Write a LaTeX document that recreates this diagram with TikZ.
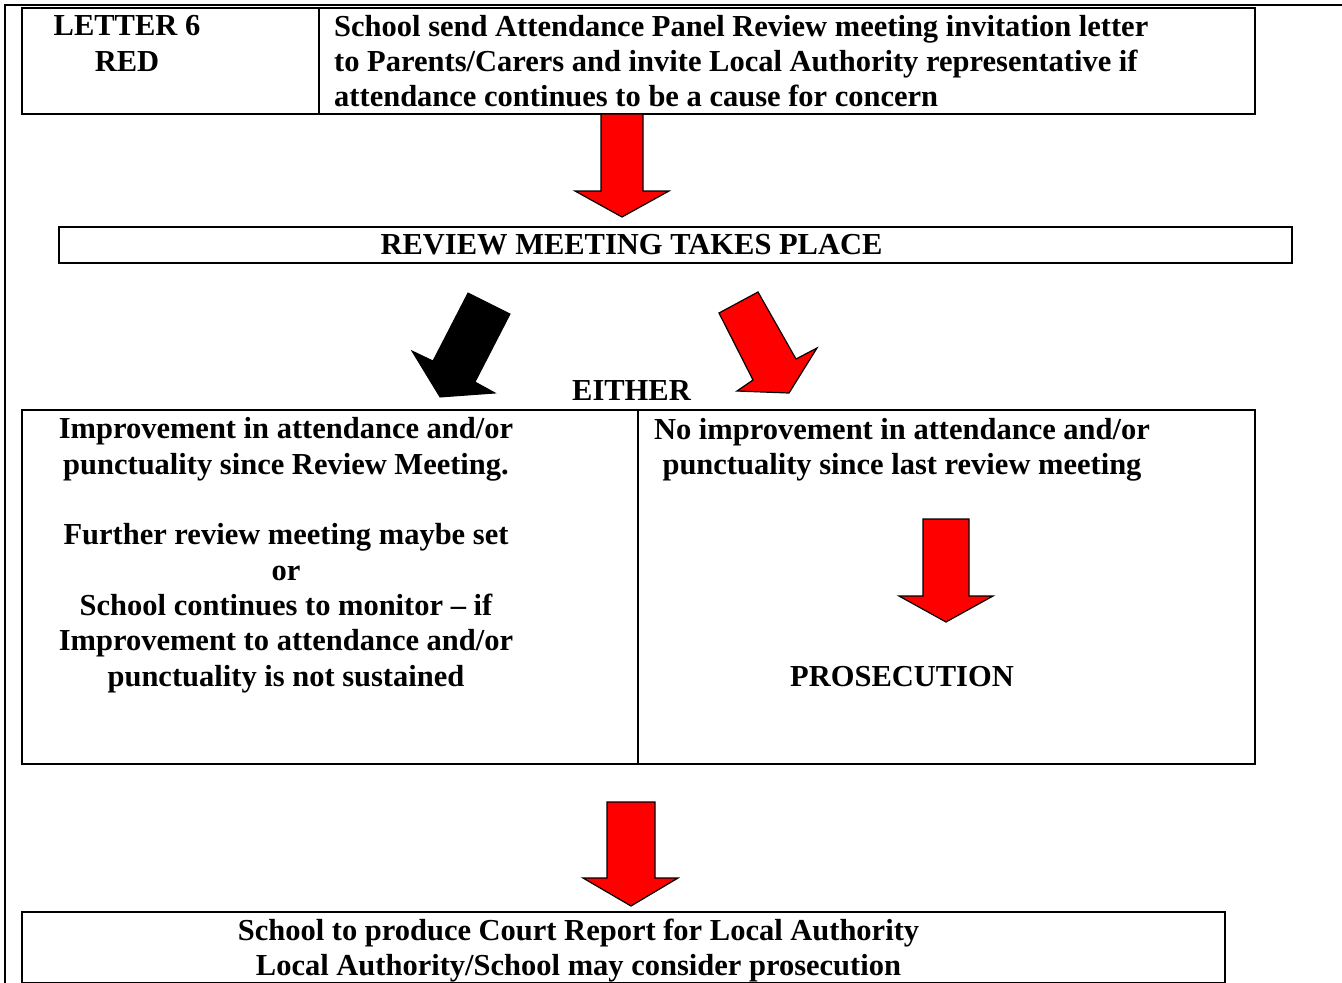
\documentclass[tikz,border=0pt]{standalone}
\usepackage{fontspec}
\setmainfont{Liberation Serif}
\begin{document}
\begin{tikzpicture}[x=1pt,y=-1pt,line join=miter,
  box/.style={draw,line width=2pt,inner sep=0pt,anchor=north west},
  txt/.style={font=\bfseries\fontsize{30.5}{35.3}\selectfont,inner sep=0pt,anchor=base,align=center},
  redarrow/.style={fill=red,draw=black,line width=1.2pt},
  blackarrow/.style={fill=black,draw=black,line width=1pt}]
\useasboundingbox (0,0) rectangle (1342,983);
% page frame
\draw[line width=2.2pt] (1342,5) -- (5,5) -- (5,983);
% boxes
\node[box,minimum width=1233pt,minimum height=106pt] (top) at (21,7) {};
\draw[line width=2pt] (319,7) -- (319,113);
\node[box,minimum width=1233pt,minimum height=36pt] (review) at (58,226) {};
\node[box,minimum width=616pt,minimum height=354pt] (left) at (21,409) {};
\node[box,minimum width=617pt,minimum height=354pt] (right) at (637,409) {};
\node[box,minimum width=1203pt,minimum height=71pt] (bottom) at (21,911) {};
% arrows
\draw[redarrow] (601,114) -- (643,114) -- (643,191) -- (669,191) -- (622,217) -- (575,191) -- (601,191) -- cycle;
\draw[blackarrow] (468,293) -- (510,314) -- (475,382) -- (495,393) -- (440,397) -- (412,351) -- (433,361) -- cycle;
\draw[redarrow] (719,313) -- (758,292) -- (796,359) -- (817,348) -- (789,393) -- (737,391) -- (753,380) -- cycle;
\draw[redarrow] (923,519) -- (969,519) -- (969,596) -- (993,596) -- (946,622) -- (899,596) -- (923,596) -- cycle;
\draw[redarrow] (607,802) -- (655,802) -- (655,878) -- (678,878) -- (631,906) -- (583,878) -- (607,878) -- cycle;
% texts (anchor = baseline of the last line)
\node[txt] (letter) at (127,71) {LETTER 6\\RED};
\node[txt,align=left,anchor=base west] (toptext) at (334,106.6) {School send Attendance Panel Review meeting invitation letter\\to Parents/Carers and invite Local Authority representative if\\attendance continues to be a cause for concern};
\node[txt] (reviewtext) at (631.5,254) {REVIEW MEETING TAKES PLACE};
\node[txt] (either) at (631.5,400) {EITHER};
\node[txt] (lefttext) at (286,686) {Improvement in attendance and/or\\punctuality since Review Meeting.\\[35.3pt]Further review meeting maybe set\\or\\School continues to monitor – if\\Improvement to attendance and/or\\punctuality is not sustained};
\node[txt] (righttext) at (902,474.3) {No improvement in attendance and/or\\punctuality since last review meeting};
\node[txt] (prosecution) at (902,686) {PROSECUTION};
\node[txt] (bottomtext) at (578.5,975.3) {School to produce Court Report for Local Authority\\Local Authority/School may consider prosecution};
\end{tikzpicture}
\end{document}
